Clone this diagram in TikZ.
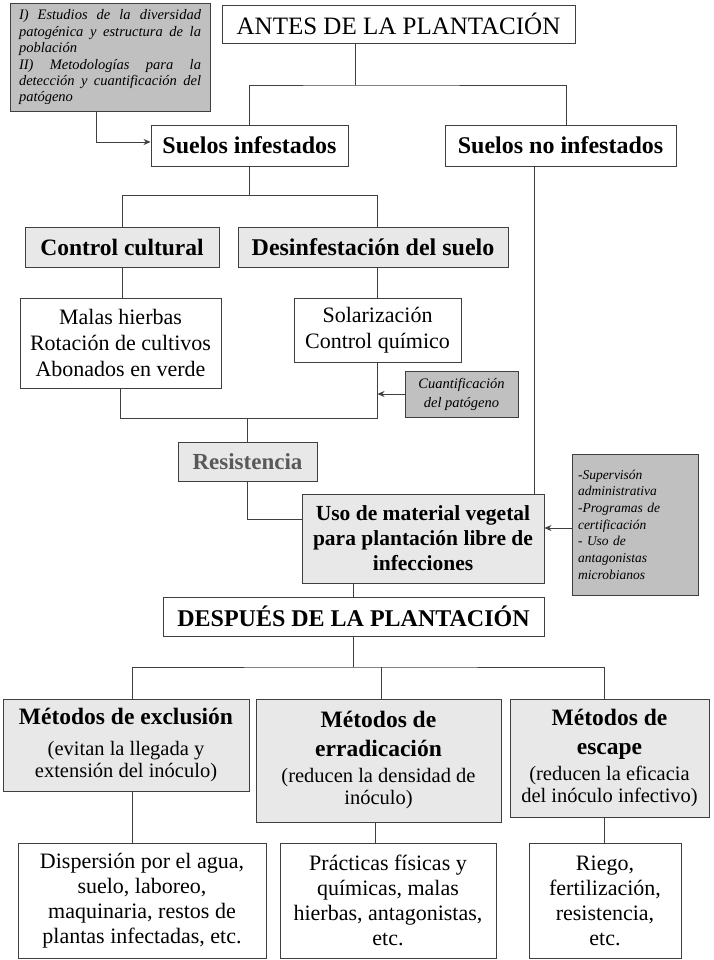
\documentclass[tikz,border=0pt]{standalone}
\usepackage{fontspec}
\setmainfont{Liberation Serif}
\usetikzlibrary{arrows.meta,calc}
\definecolor{linecol}{HTML}{3F3F3F}
\definecolor{lightfill}{HTML}{E8E8E8}
\definecolor{darkfill}{HTML}{C0C0C0}
\newcommand{\myfs}[2]{\fontsize{#1}{#2}\selectfont}
\newcommand{\mtitle}[1]{{\bfseries\myfs{23.5}{28}#1}}
\tikzset{
  wbox/.style={draw=linecol, line width=0.9pt, fill=white, inner sep=0pt, align=center},
  lbox/.style={wbox, fill=lightfill},
  dbox/.style={wbox, fill=darkfill},
  sz/.style 2 args={minimum width=#1, minimum height=#2},
  conn/.style={draw=linecol, line width=0.9pt},
  arr/.style={conn, -{Stealth[length=7pt,width=6pt]}},
}
\begin{document}
\begin{tikzpicture}[x=1pt,y=-1pt]
\useasboundingbox (0,0) rectangle (713,960);
\fill[white] (0,0) rectangle (713,960);

% ---------- nodes ----------
\node[dbox, sz={200pt}{108pt}, text width=182pt, align=justify,
      font=\myfs{14.5}{16.4}\itshape] (topgray) at (110,57.5)
  {\hyphenpenalty=10000\relax\tolerance=10000\relax
   I) Estudios de la diversidad\linebreak patogénica y estructura de la\linebreak población\\II) Metodologías para la\linebreak detección y cuantificación del\linebreak patógeno};

\node[wbox, sz={353pt}{38pt}, font=\myfs{25}{30}] (antes) at (398.5,24) {ANTES DE LA PLANTACIÓN};

\node[wbox, sz={197pt}{41pt}, font=\myfs{24}{28}\bfseries] (sinf) at (249.5,145.5) {Suelos infestados};
\node[wbox, sz={231pt}{41pt}, font=\myfs{24}{28}\bfseries] (snoinf) at (560.5,145.5) {Suelos no infestados};

\node[lbox, sz={194pt}{40pt}, font=\myfs{23.5}{28}\bfseries] (ccult) at (122,247) {Control cultural};
\node[lbox, sz={270pt}{40pt}, font=\myfs{24}{28}\bfseries] (desinf) at (373,247) {Desinfestación del suelo};

\node[wbox, sz={201pt}{90pt}, font=\myfs{22}{26}] (malas) at (120.5,343) {Malas hierbas\\Rotación de cultivos\\Abonados en verde};
\node[wbox, sz={167pt}{64pt}, font=\myfs{22}{26}] (solar) at (377.5,330) {Solarización\\Control químico};

\node[dbox, sz={113pt}{46pt}, font=\myfs{14.5}{19}\itshape] (cuant) at (461.5,394) {Cuantificación\\del patógeno};

\node[lbox, sz={139pt}{39pt}, font=\myfs{23}{28}\bfseries, text=black!65] (resist) at (247.5,461.5) {Resistencia};

\node[lbox, sz={242pt}{89pt}, font=\myfs{21.5}{25}\bfseries] (uso) at (423,538.5) {Uso de material vegetal\\para plantación libre de\\infecciones};

\node[dbox, sz={126pt}{141pt}, text width=114pt, align=left, font=\myfs{13.5}{16.7}\itshape] (rgray) at (635,524.5)
  {-Supervisón\\administrativa\\-Programas de\\certificación\\- Uso de\\antagonistas\\microbianos};

\node[wbox, sz={381pt}{39pt}, font=\myfs{24}{28}\bfseries] (despues) at (353.5,616.5) {DESPUÉS DE LA PLANTACIÓN};

\node[lbox, sz={246pt}{92pt}, font=\myfs{20.5}{21.5}] (mexc) at (126,745)
  {\mtitle{Métodos de exclusión}\\[10pt](evitan la llegada y\\extensión del inóculo)};
\node[lbox, sz={245pt}{123pt}, font=\myfs{20.5}{22}] (merr) at (378.5,760.5)
  {\mtitle{Métodos de}\\[7pt]\mtitle{erradicación}\\[4pt](reducen la densidad de\\inóculo)};
\node[lbox, sz={199pt}{118pt}, font=\myfs{20.5}{22}] (mesc) at (609.5,758)
  {\mtitle{Métodos de}\\[7pt]\mtitle{escape}\\[4pt](reducen la eficacia\\del inóculo infectivo)};

\node[wbox, sz={248pt}{115pt}, font=\myfs{22}{25}] (disp) at (142,900.5)
  {Dispersión por el agua,\\suelo, laboreo,\\maquinaria, restos de\\plantas infectadas, etc.};
\node[wbox, sz={216pt}{115pt}, font=\myfs{22}{25}] (prac) at (388,900.5)
  {Prácticas físicas y\\químicas, malas\\hierbas, antagonistas,\\etc.};
\node[wbox, sz={152pt}{115pt}, font=\myfs{22}{25}] (riego) at (605,900.5)
  {Riego,\\fertilización,\\resistencia,\\etc.};

% ---------- junction coordinates ----------
\coordinate (ja) at (355,85);
\coordinate (jb) at (96,142);
\coordinate (jc) at (249.5,195);
\coordinate (jd) at (247.5,418);
\coordinate (je) at (0,519);
\coordinate (jf) at (534,0);
\coordinate (jg) at (0,528);
\coordinate (jh) at (353.5,667);
\coordinate (c1) at (132,0);
\coordinate (c2) at (381,0);
\coordinate (c3) at (604,0);
\coordinate (c4) at (375,0);
\coordinate (c5) at (566,0);

% ---------- connectors ----------
\draw[conn] (antes.south -| ja) -- (ja);
\draw[conn] (sinf.north) |- (ja) -| (snoinf.north -| c5);
\draw[arr] (topgray.south -| jb) |- (sinf.west |- jb);

\draw[conn] (sinf.south) -- (jc);
\draw[conn] (ccult.north) |- (solar.north |- jc) -- (solar.north |- desinf.north);
\draw[conn] (ccult.south) -- (ccult.south |- malas.north);
\draw[conn] (solar.north |- desinf.south) -- (solar.north);
\draw[conn] (malas.south) |- (solar.south |- jd) -- (solar.south);
\draw[conn] (resist.north |- jd) -- (resist.north);
\draw[arr] (cuant.west) -- (solar.south |- cuant.west);

\draw[conn] (resist.south) |- (uso.west |- je);
\draw[conn] (snoinf.south -| jf) -- (uso.north -| jf);
\draw[arr] (rgray.west |- jg) -- (uso.east |- jg);

\draw[conn] (despues.north |- uso.south) -- (despues.north);
\draw[conn] (despues.south) -- (jh);
\draw[conn] (mexc.north -| c1) |- (jh) -| (mesc.north -| c3);
\draw[conn] (c2 |- jh) -- (merr.north -| c2);
\draw[conn] (mexc.south -| c1) -- (disp.north -| c1);
\draw[conn] (merr.south -| c4) -- (prac.north -| c4);
\draw[conn] (mesc.south -| c3) -- (riego.north -| c3);
\end{tikzpicture}
\end{document}
